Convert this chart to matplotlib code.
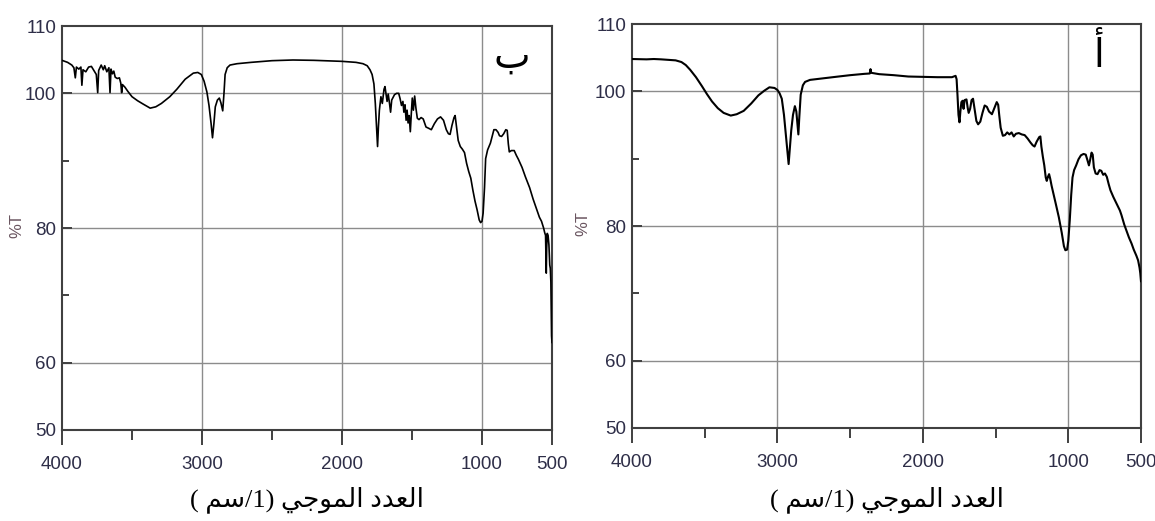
import matplotlib
matplotlib.use("Agg")
import matplotlib.pyplot as plt
from matplotlib.ticker import FixedLocator

# FTIR spectra, two samples (panel "ب" left, panel "أ" right)
wn_b = [4000, 3960, 3930, 3915, 3905, 3897, 3880, 3865, 3858, 3850, 3830, 3810, 3790, 3770,
        3755, 3745, 3738, 3720, 3705, 3695, 3680, 3665, 3657, 3650, 3640, 3630, 3620, 3605,
        3590, 3580, 3574, 3568, 3550, 3530, 3500, 3460, 3420, 3370, 3330, 3290, 3230, 3180,
        3120, 3062, 3030, 3005, 2985, 2965, 2950, 2935, 2925, 2915, 2905, 2890, 2876, 2865,
        2852, 2843, 2835, 2820, 2800, 2750, 2650, 2500, 2350, 2200, 2000, 1900, 1850, 1820,
        1800, 1785, 1772, 1762, 1752, 1746, 1740, 1733, 1722, 1712, 1700, 1693, 1685, 1678,
        1670, 1660, 1653, 1645, 1635, 1625, 1610, 1595, 1585, 1575, 1565, 1558, 1550, 1542,
        1535, 1528, 1520, 1512, 1505, 1498, 1490, 1481, 1472, 1462, 1450, 1435, 1420, 1400,
        1380, 1362, 1340, 1318, 1296, 1275, 1255, 1240, 1228, 1215, 1200, 1192, 1182, 1170,
        1155, 1140, 1125, 1110, 1095, 1080, 1065, 1050, 1035, 1020, 1010, 1000, 992, 982,
        974, 960, 940, 925, 915, 900, 885, 875, 860, 845, 830, 820, 812, 805, 790, 770, 755,
        740, 714, 690, 660, 635, 610, 590, 575, 560, 552, 546, 543, 541, 538, 534, 528, 522,
        516, 512, 508, 505, 503, 501, 500]
t_b = [104.9, 104.6, 104.2, 103.8, 102.3, 103.9, 103.6, 103.9, 101.2, 103.5, 103.2, 103.9,
       104.0, 103.3, 102.8, 100.1, 103.4, 104.2, 103.5, 104.1, 103.2, 103.8, 100.1, 103.6,
       102.9, 103.3, 102.4, 102.2, 102.3, 101.5, 100.1, 101.3, 100.9, 100.3, 99.5, 98.9,
       98.4, 97.8, 98.0, 98.5, 99.5, 100.6, 102.1, 103.0, 103.1, 102.8, 101.8, 100.2, 98.2,
       95.5, 93.4, 95.5, 98.0, 99.0, 99.3, 98.6, 97.4, 100.0, 102.8, 103.8, 104.2, 104.4,
       104.6, 104.85, 104.95, 104.9, 104.75, 104.6, 104.4, 104.1, 103.5, 102.8, 101.4, 98.5,
       94.5, 92.1, 95.0, 97.5, 99.5, 98.5, 100.6, 101.0, 99.8, 98.8, 99.9, 98.4, 97.2, 99.0,
       99.4, 99.8, 100.0, 100.0, 99.2, 98.2, 98.8, 97.2, 98.3, 96.0, 97.5, 95.6, 96.7, 94.3,
       97.0, 99.3, 97.5, 99.6, 97.8, 96.3, 96.1, 96.4, 96.2, 95.0, 94.8, 94.6, 95.5, 96.2,
       96.5, 96.0, 94.6, 94.0, 93.9, 95.2, 96.4, 96.7, 95.0, 93.0, 92.1, 91.7, 91.2, 89.6,
       88.4, 87.4, 85.6, 84.0, 82.7, 81.2, 80.8, 81.0, 82.2, 86.0, 90.3, 91.6, 92.6, 93.8,
       94.6, 94.6, 94.2, 93.7, 93.6, 94.0, 94.6, 94.5, 92.5, 91.3, 91.5, 91.5, 90.8, 90.2,
       89.0, 87.6, 86.0, 84.3, 82.8, 81.6, 81.0, 80.0, 79.3, 78.9, 75.5, 73.3, 77.0, 79.2,
       78.9, 77.5, 74.5, 74.0, 72.0, 66.5, 64.0, 63.3, 63.0]

wn_a = [4000, 3900, 3850, 3800, 3700, 3660, 3630, 3600, 3560, 3520, 3485, 3450, 3410, 3370,
        3321, 3280, 3232, 3180, 3131, 3090, 3055, 3020, 3000, 2985, 2970, 2955, 2940, 2930,
        2923, 2915, 2905, 2893, 2880, 2870, 2862, 2856, 2850, 2840, 2825, 2810, 2776, 2700,
        2600, 2500, 2400, 2365, 2360, 2355, 2300, 2200, 2100, 2000, 1900, 1800, 1775, 1768,
        1762, 1755, 1748, 1742, 1735, 1727, 1720, 1713, 1700, 1692, 1685, 1675, 1665, 1655,
        1645, 1632, 1620, 1605, 1590, 1575, 1560, 1545, 1525, 1510, 1492, 1482, 1475, 1465,
        1450, 1435, 1420, 1405, 1390, 1375, 1360, 1340, 1320, 1300, 1280, 1260, 1245, 1232,
        1218, 1200, 1192, 1185, 1175, 1165, 1155, 1148, 1140, 1132, 1124, 1115, 1103, 1085,
        1065, 1045, 1030, 1020, 1008, 1000, 990, 980, 971, 960, 946, 930, 913, 895, 880, 870,
        858, 850, 840, 832, 824, 812, 799, 785, 773, 760, 748, 735, 722, 710, 690, 665, 645,
        634, 615, 600, 583, 565, 550, 532, 520, 510, 505, 500]
t_a = [104.8, 104.75, 104.8, 104.75, 104.6, 104.35, 103.9, 103.2, 102.1, 100.8, 99.6, 98.5,
       97.5, 96.8, 96.4, 96.6, 97.1, 98.2, 99.4, 100.1, 100.6, 100.5, 100.2, 99.7, 98.9,
       96.5, 93.0, 90.5, 89.2, 91.5, 94.2, 96.5, 97.8, 97.0, 95.0, 93.6, 96.0, 99.5, 100.9,
       101.4, 101.7, 101.9, 102.15, 102.4, 102.6, 102.65, 103.3, 102.75, 102.55, 102.4,
       102.2, 102.15, 102.1, 102.1, 102.3, 101.8, 99.5, 96.5, 95.4, 97.0, 98.4, 98.6, 97.4,
       98.7, 98.8, 97.6, 96.8, 97.4, 98.7, 98.9, 97.5, 95.6, 95.1, 95.5, 96.8, 97.9, 97.7,
       97.0, 96.6, 97.4, 98.4, 98.0, 96.5, 94.6, 93.4, 93.5, 93.9, 93.6, 93.9, 93.3, 93.7,
       93.8, 93.6, 93.5, 93.0, 92.4, 92.0, 91.8, 92.5, 93.2, 93.3, 91.8, 90.3, 89.0, 87.2,
       86.7, 87.3, 87.7, 87.0, 86.0, 84.9, 83.2, 81.3, 79.0, 77.0, 76.4, 76.5, 77.8, 80.8,
       84.6, 87.2, 88.3, 89.0, 89.9, 90.5, 90.7, 90.6, 89.9, 89.0, 89.8, 90.9, 90.6, 88.7,
       87.8, 87.7, 88.3, 88.2, 87.6, 87.8, 87.3, 86.2, 85.3, 84.3, 83.2, 82.3, 81.6, 80.2,
       79.3, 78.3, 77.4, 76.5, 75.6, 74.9, 73.8, 73.0, 71.8]

x_major = [4000, 3000, 2000, 1000, 500]
x_minor = [3500, 2500, 1500]
y_major = [50, 60, 80, 100, 110]
y_minor = [70, 90]

# Arabic text written in visual order with presentation forms (no shaping engine here)
panel_b = "\uFE8F"                      # ب
panel_a = "\uFE83"                      # أ
xlab = ("( \uFEE2\uFEB3/1) "            # (1/سم )
        "\uFEF2\uFE9F\uFEEE\uFEE4\uFEDF\uFE8D "   # الموجي
        "\uFEA9\uFEAA\uFECC\uFEDF\uFE8D")         # العدد

TICK_COLOR = "#2e2e48"
LABEL_COLOR = "#6a5560"
arabic_font = ["Liberation Serif", "DejaVu Sans"]
num_font = ["Liberation Sans", "DejaVu Sans"]

fig = plt.figure(figsize=(11.55, 5.21), dpi=100)

W, H = 1155.0, 521.0
panels = [
    # left px, right px, top px, bottom px, ylabel x px, data, tag
    (62, 552, 26, 430, 17, wn_b, t_b, panel_b, 1.2),
    (632, 1141, 24, 428, 583, wn_a, t_a, panel_a, 1.5),
]

for left, right, top, bottom, ylab_x, wn, tr, tag, lw in panels:
    ax = fig.add_axes([left / W, 1 - bottom / H, (right - left) / W, (bottom - top) / H])
    ax.plot(wn, tr, color="black", lw=lw, zorder=3)
    ax.set_xlim(4000, 500)
    ax.set_ylim(50, 110)

    ax.xaxis.set_major_locator(FixedLocator(x_major))
    ax.xaxis.set_minor_locator(FixedLocator(x_minor))
    ax.yaxis.set_major_locator(FixedLocator(y_major))
    ax.yaxis.set_minor_locator(FixedLocator(y_minor))

    ax.tick_params(axis="x", which="major", direction="out", length=11, width=1.4,
                   color="#404040", pad=8, labelsize=13.5, labelcolor=TICK_COLOR)
    ax.tick_params(axis="x", which="minor", direction="out", length=7, width=1.4,
                   color="#404040")
    ax.tick_params(axis="y", which="major", direction="in", length=7, width=1.4,
                   color="#404040", pad=4, labelsize=13.5, labelcolor=TICK_COLOR)
    ax.tick_params(axis="y", which="minor", direction="in", length=5, width=1.4,
                   color="#404040")
    for lab in ax.get_xticklabels() + ax.get_yticklabels():
        lab.set_family(num_font)

    for v in [3000, 2000, 1000]:
        ax.axvline(v, color="#8c8c8c", lw=1.0, zorder=1)
    for v in [60, 80, 100]:
        ax.axhline(v, color="#8c8c8c", lw=1.0, zorder=1)

    for s in ax.spines.values():
        s.set_color("#404040")
        s.set_linewidth(1.5)

    fig.text(ylab_x / W, 1 - ((top + bottom) / 2 - 2) / H, "%T", rotation=90,
             ha="center", va="center", color=LABEL_COLOR, fontsize=12, family=num_font)
    ax.text(0.918, 0.92, tag, transform=ax.transAxes, ha="center", va="center",
            fontsize=28, family=arabic_font, color="black")

    fig.text((left + right) / 2 / W, 1 - 500 / H, xlab, ha="center", va="center",
             fontsize=19, family=arabic_font, color="black")

fig.savefig("out.png", dpi=100)
